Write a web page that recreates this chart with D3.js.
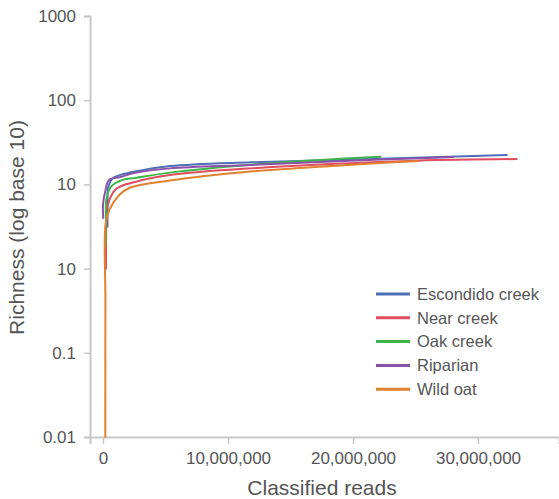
<!DOCTYPE html>
<html>
<head>
<meta charset="utf-8">
<script src="https://cdn.jsdelivr.net/npm/d3@7"></script>
<style>
  html, body { margin: 0; padding: 0; background: #fff; }
  svg { display: block; font-family: "Liberation Sans", Arial, Helvetica, sans-serif; }
</style>
</head>
<body>
<svg id="chart" width="559" height="499"></svg>
<script>
// ---- data ----
const seriesNames = ["Escondido creek", "Near creek", "Oak creek", "Riparian", "Wild oat"];
const seriesColors = ["#4d6fb6", "#e04d5c", "#3db54b", "#8b50a8", "#e0812f"];

const escondidoReads = [360000, 370000, 400000, 776000, 1360000, 2560000, 5360000, 11800000, 22200000, 32300000];
const escondidoRich  = [3.15, 6.5, 9.0, 11.8, 12.9, 14.2, 16.5, 18.3, 20.1, 22.3];

const nearReads = [240000, 256000, 320000, 1040000, 2560000, 5360000, 11800000, 25100000, 33100000];
const nearRich  = [1.0, 2.87, 5.25, 8.8, 10.7, 12.9, 15.5, 19.1, 20.0];

const oakReads = [200000, 240000, 264000, 640000, 1580000, 2560000, 5360000, 12600000, 17400000, 22200000];
const oakRich  = [1.9, 3.77, 6.53, 9.4, 11.3, 11.9, 13.8, 17.5, 19.5, 21.3];

const riparianReads = [24000, 0, 200000, 480000, 1360000, 2560000, 5360000, 11800000, 22200000, 28000000];
const riparianRich  = [4.0, 5.7, 8.55, 11.3, 12.2, 13.7, 15.5, 17.0, 19.7, 21.1];

const wildOatReads = [184000, 192000, 200000, 504000, 1300000, 2100000, 5360000, 11800000, 25200000];
const wildOatRich  = [0.01, 0.42, 3.3, 4.97, 7.48, 9.06, 11.1, 14.2, 19.0];

const xTickValues = [0, 10000000, 20000000, 30000000];
const xTickLabels = ["0", "10,000,000", "20,000,000", "30,000,000"];
const yTickValues = [0.01, 0.1, 1, 10, 100, 1000];
const yTickLabels = ["0.01", "0.1", "10", "10", "100", "1000"];

const xTitle = "Classified reads";
const yTitle = "Richness (log base 10)";

// ---- build ----
const readsArr = [escondidoReads, nearReads, oakReads, riparianReads, wildOatReads];
const richArr = [escondidoRich, nearRich, oakRich, riparianRich, wildOatRich];
const series = seriesNames.map((name, i) => ({
  name, color: seriesColors[i],
  points: readsArr[i].map((r, j) => ({ x: r, y: richArr[i][j] }))
}));

const svg = d3.select("#chart");
const plot = { left: 90, right: 559, top: 16, bottom: 437 };

const x = d3.scaleLinear().domain([-1040000, 36480000]).range([plot.left, plot.right]);
const y = d3.scaleLog().domain([0.01, 1000]).range([plot.bottom, plot.top]);

const axisColor = "#c8c8c8";
const textColor = "#555";
const font = "'Liberation Sans', Arial, sans-serif";

// X axis
const xAxis = svg.append("g")
  .attr("transform", `translate(0,${plot.bottom})`)
  .call(d3.axisBottom(x).tickValues(xTickValues)
    .tickFormat((d, i) => xTickLabels[i]).tickSizeOuter(0).tickSize(7).tickPadding(8));
xAxis.select(".domain").attr("stroke", axisColor).attr("stroke-width", 2);
xAxis.selectAll(".tick line").attr("stroke", axisColor).attr("stroke-width", 1.5);
xAxis.selectAll(".tick text").attr("fill", textColor).attr("font-size", 17)
  .attr("font-family", font);

// Y axis
const yAxis = svg.append("g")
  .attr("transform", `translate(${plot.left},0)`)
  .call(d3.axisLeft(y).tickValues(yTickValues)
    .tickFormat((d, i) => yTickLabels[i]).tickSizeOuter(0).tickSize(6).tickPadding(8));
yAxis.select(".domain").attr("stroke", axisColor).attr("stroke-width", 2);
yAxis.selectAll(".tick line").attr("stroke", axisColor).attr("stroke-width", 1.5);
yAxis.selectAll(".tick text").attr("fill", textColor).attr("font-size", 17)
  .attr("font-family", font);

// Titles
svg.append("text")
  .attr("x", 322)
  .attr("y", 495)
  .attr("text-anchor", "middle")
  .attr("fill", textColor).attr("font-size", 21)
  .text(xTitle);

svg.append("text")
  .attr("transform", `translate(24,${(plot.top + plot.bottom) / 2 + 1}) rotate(-90)`)
  .attr("text-anchor", "middle")
  .attr("fill", textColor).attr("font-size", 21)
  .text(yTitle);

// Lines
const line = d3.line()
  .x(d => x(d.x)).y(d => y(d.y))
  .curve(d3.curveCatmullRom.alpha(0.5));

svg.append("g").selectAll("path")
  .data(series).join("path")
  .attr("d", d => line(d.points))
  .attr("fill", "none")
  .attr("stroke", d => d.color)
  .attr("stroke-width", 2)
  .attr("stroke-linejoin", "round")
  .attr("stroke-linecap", "round");

// Legend
const legend = svg.append("g").attr("transform", "translate(376,294)");
const rows = legend.selectAll("g").data(series).join("g")
  .attr("transform", (d, i) => `translate(0,${i * 23.8})`);
rows.append("line").attr("x1", 0).attr("x2", 34).attr("y1", 0).attr("y2", 0)
  .attr("stroke", d => d.color).attr("stroke-width", 3);
rows.append("text").attr("x", 41).attr("y", 0).attr("dy", "0.35em")
  .attr("fill", textColor).attr("font-size", 16.5)
  .text(d => d.name);
</script>
</body>
</html>
